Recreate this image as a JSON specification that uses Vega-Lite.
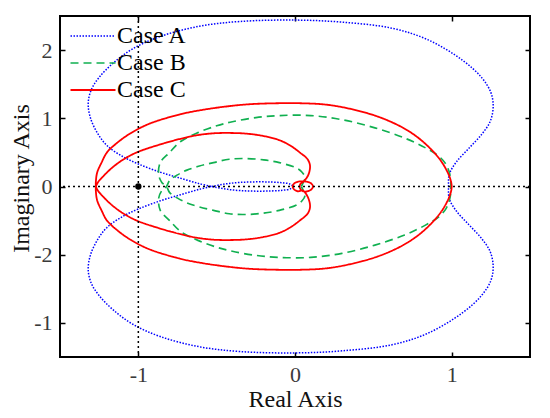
{
"$schema": "https://vega.github.io/schema/vega-lite/v6.json",
"width": 470, "height": 341,
"autosize": {"type": "none"},
"padding": {"left": 60, "top": 16, "right": 20, "bottom": 61},
"background": "#ffffff",
"config": {
  "view": {"stroke": "#000", "strokeWidth": 2},
  "font": "Liberation Serif",
  "axis": {"grid": false, "domain": false, "tickColor": "#000", "tickWidth": 1.5, "tickSize": -5,
    "labelFont": "Liberation Serif", "labelFontSize": 22, "labelColor": "#3a3a3a",
    "titleFont": "Liberation Serif", "titleFontSize": 24, "titleFontWeight": "normal", "titleColor": "#111"}
},
"datasets": {
  "curves": [
{"c":"Case A","i":1,"x":-0.01,"y":0},{"c":"Case A","i":2,"x":-0.03,"y":-0.035},{"c":"Case A","i":3,"x":-0.08,"y":-0.055},{"c":"Case A","i":4,"x":-0.15,"y":-0.065},{"c":"Case A","i":5,"x":-0.25,"y":-0.068},{"c":"Case A","i":6,"x":-0.35,"y":-0.06},{"c":"Case A","i":7,"x":-0.43,"y":-0.042},{"c":"Case A","i":8,"x":-0.5,"y":-0.015},{"c":"Case A","i":9,"x":-0.6,"y":0.035},{"c":"Case A","i":10,"x":-0.73,"y":0.12},{"c":"Case A","i":11,"x":-0.86,"y":0.21},{"c":"Case A","i":12,"x":-1.0,"y":0.33},{"c":"Case A","i":13,"x":-1.1,"y":0.44},{"c":"Case A","i":14,"x":-1.2,"y":0.6},{"c":"Case A","i":15,"x":-1.26,"y":0.78},{"c":"Case A","i":16,"x":-1.305,"y":1.0},{"c":"Case A","i":17,"x":-1.32,"y":1.22},{"c":"Case A","i":18,"x":-1.3,"y":1.42},{"c":"Case A","i":19,"x":-1.25,"y":1.6},{"c":"Case A","i":20,"x":-1.16,"y":1.81},{"c":"Case A","i":21,"x":-1.035,"y":2.02},{"c":"Case A","i":22,"x":-0.86,"y":2.2},{"c":"Case A","i":23,"x":-0.61,"y":2.35},{"c":"Case A","i":24,"x":-0.35,"y":2.42},{"c":"Case A","i":25,"x":0,"y":2.44},{"c":"Case A","i":26,"x":0.3,"y":2.41},{"c":"Case A","i":27,"x":0.62,"y":2.32},{"c":"Case A","i":28,"x":0.85,"y":2.15},{"c":"Case A","i":29,"x":1.07,"y":1.85},{"c":"Case A","i":30,"x":1.19,"y":1.6},{"c":"Case A","i":31,"x":1.25,"y":1.38},{"c":"Case A","i":32,"x":1.265,"y":1.17},{"c":"Case A","i":33,"x":1.245,"y":0.95},{"c":"Case A","i":34,"x":1.19,"y":0.76},{"c":"Case A","i":35,"x":1.11,"y":0.56},{"c":"Case A","i":36,"x":1.03,"y":0.36},{"c":"Case A","i":37,"x":0.985,"y":0.18},{"c":"Case A","i":38,"x":0.98,"y":0},
{"c":"Case A","i":39,"x":0.985,"y":-0.18},{"c":"Case A","i":40,"x":1.03,"y":-0.36},{"c":"Case A","i":41,"x":1.11,"y":-0.56},{"c":"Case A","i":42,"x":1.19,"y":-0.76},{"c":"Case A","i":43,"x":1.245,"y":-0.95},{"c":"Case A","i":44,"x":1.265,"y":-1.17},{"c":"Case A","i":45,"x":1.25,"y":-1.38},{"c":"Case A","i":46,"x":1.19,"y":-1.6},{"c":"Case A","i":47,"x":1.07,"y":-1.85},{"c":"Case A","i":48,"x":0.85,"y":-2.15},{"c":"Case A","i":49,"x":0.62,"y":-2.32},{"c":"Case A","i":50,"x":0.3,"y":-2.41},{"c":"Case A","i":51,"x":0,"y":-2.44},{"c":"Case A","i":52,"x":-0.35,"y":-2.42},{"c":"Case A","i":53,"x":-0.61,"y":-2.35},{"c":"Case A","i":54,"x":-0.86,"y":-2.2},{"c":"Case A","i":55,"x":-1.035,"y":-2.02},{"c":"Case A","i":56,"x":-1.16,"y":-1.81},{"c":"Case A","i":57,"x":-1.25,"y":-1.6},{"c":"Case A","i":58,"x":-1.3,"y":-1.42},{"c":"Case A","i":59,"x":-1.32,"y":-1.22},{"c":"Case A","i":60,"x":-1.305,"y":-1.0},{"c":"Case A","i":61,"x":-1.26,"y":-0.78},{"c":"Case A","i":62,"x":-1.2,"y":-0.6},{"c":"Case A","i":63,"x":-1.1,"y":-0.44},{"c":"Case A","i":64,"x":-1.0,"y":-0.33},{"c":"Case A","i":65,"x":-0.86,"y":-0.21},{"c":"Case A","i":66,"x":-0.73,"y":-0.12},{"c":"Case A","i":67,"x":-0.6,"y":-0.035},{"c":"Case A","i":68,"x":-0.5,"y":0.015},{"c":"Case A","i":69,"x":-0.43,"y":0.042},{"c":"Case A","i":70,"x":-0.35,"y":0.06},{"c":"Case A","i":71,"x":-0.25,"y":0.068},{"c":"Case A","i":72,"x":-0.15,"y":0.065},{"c":"Case A","i":73,"x":-0.08,"y":0.055},{"c":"Case A","i":74,"x":-0.03,"y":0.035},{"c":"Case A","i":75,"x":-0.01,"y":0},
{"c":"Case B","i":1,"x":0.04,"y":0},{"c":"Case B","i":2,"x":0.05,"y":0.045},{"c":"Case B","i":3,"x":0.064,"y":0.13},{"c":"Case B","i":4,"x":0.045,"y":0.21},{"c":"Case B","i":5,"x":0.01,"y":0.27},{"c":"Case B","i":6,"x":-0.1,"y":0.35},{"c":"Case B","i":7,"x":-0.2,"y":0.39},{"c":"Case B","i":8,"x":-0.31,"y":0.41},{"c":"Case B","i":9,"x":-0.42,"y":0.4},{"c":"Case B","i":10,"x":-0.52,"y":0.35},{"c":"Case B","i":11,"x":-0.61,"y":0.3},{"c":"Case B","i":12,"x":-0.69,"y":0.24},{"c":"Case B","i":13,"x":-0.75,"y":0.17},{"c":"Case B","i":14,"x":-0.8,"y":0.09},{"c":"Case B","i":15,"x":-0.82,"y":0},{"c":"Case B","i":16,"x":-0.85,"y":-0.06},{"c":"Case B","i":17,"x":-0.87,"y":-0.17},{"c":"Case B","i":18,"x":-0.86,"y":-0.35},{"c":"Case B","i":19,"x":-0.8,"y":-0.5},{"c":"Case B","i":20,"x":-0.73,"y":-0.66},{"c":"Case B","i":21,"x":-0.62,"y":-0.79},{"c":"Case B","i":22,"x":-0.5,"y":-0.89},{"c":"Case B","i":23,"x":-0.4,"y":-0.95},{"c":"Case B","i":24,"x":-0.25,"y":-1.01},{"c":"Case B","i":25,"x":-0.1,"y":-1.04},{"c":"Case B","i":26,"x":0.1,"y":-1.04},{"c":"Case B","i":27,"x":0.3,"y":-0.98},{"c":"Case B","i":28,"x":0.51,"y":-0.86},{"c":"Case B","i":29,"x":0.7,"y":-0.71},{"c":"Case B","i":30,"x":0.83,"y":-0.57},{"c":"Case B","i":31,"x":0.92,"y":-0.44},{"c":"Case B","i":32,"x":0.965,"y":-0.32},{"c":"Case B","i":33,"x":0.99,"y":-0.16},{"c":"Case B","i":34,"x":0.995,"y":0},
{"c":"Case B","i":35,"x":0.99,"y":0.16},{"c":"Case B","i":36,"x":0.965,"y":0.32},{"c":"Case B","i":37,"x":0.92,"y":0.44},{"c":"Case B","i":38,"x":0.83,"y":0.57},{"c":"Case B","i":39,"x":0.7,"y":0.71},{"c":"Case B","i":40,"x":0.51,"y":0.86},{"c":"Case B","i":41,"x":0.3,"y":0.98},{"c":"Case B","i":42,"x":0.1,"y":1.04},{"c":"Case B","i":43,"x":-0.1,"y":1.04},{"c":"Case B","i":44,"x":-0.25,"y":1.01},{"c":"Case B","i":45,"x":-0.4,"y":0.95},{"c":"Case B","i":46,"x":-0.5,"y":0.89},{"c":"Case B","i":47,"x":-0.62,"y":0.79},{"c":"Case B","i":48,"x":-0.73,"y":0.66},{"c":"Case B","i":49,"x":-0.8,"y":0.5},{"c":"Case B","i":50,"x":-0.86,"y":0.35},{"c":"Case B","i":51,"x":-0.87,"y":0.17},{"c":"Case B","i":52,"x":-0.85,"y":0.06},{"c":"Case B","i":53,"x":-0.82,"y":0},{"c":"Case B","i":54,"x":-0.8,"y":-0.09},{"c":"Case B","i":55,"x":-0.75,"y":-0.17},{"c":"Case B","i":56,"x":-0.69,"y":-0.24},{"c":"Case B","i":57,"x":-0.61,"y":-0.3},{"c":"Case B","i":58,"x":-0.52,"y":-0.35},{"c":"Case B","i":59,"x":-0.42,"y":-0.4},{"c":"Case B","i":60,"x":-0.31,"y":-0.41},{"c":"Case B","i":61,"x":-0.2,"y":-0.39},{"c":"Case B","i":62,"x":-0.1,"y":-0.35},{"c":"Case B","i":63,"x":0.01,"y":-0.27},{"c":"Case B","i":64,"x":0.045,"y":-0.21},{"c":"Case B","i":65,"x":0.064,"y":-0.13},{"c":"Case B","i":66,"x":0.05,"y":-0.045},{"c":"Case B","i":67,"x":0.04,"y":0},
{"c":"Case C","i":1,"x":0.05,"y":0.06},{"c":"Case C","i":2,"x":0.083,"y":0.16},{"c":"Case C","i":3,"x":0.096,"y":0.3},{"c":"Case C","i":4,"x":0.08,"y":0.4},{"c":"Case C","i":5,"x":0.03,"y":0.5},{"c":"Case C","i":6,"x":-0.03,"y":0.6},{"c":"Case C","i":7,"x":-0.1,"y":0.68},{"c":"Case C","i":8,"x":-0.2,"y":0.74},{"c":"Case C","i":9,"x":-0.31,"y":0.775},{"c":"Case C","i":10,"x":-0.42,"y":0.785},{"c":"Case C","i":11,"x":-0.52,"y":0.78},{"c":"Case C","i":12,"x":-0.63,"y":0.75},{"c":"Case C","i":13,"x":-0.73,"y":0.7},{"c":"Case C","i":14,"x":-0.87,"y":0.61},{"c":"Case C","i":15,"x":-1.01,"y":0.5},{"c":"Case C","i":16,"x":-1.1,"y":0.39},{"c":"Case C","i":17,"x":-1.17,"y":0.27},{"c":"Case C","i":18,"x":-1.22,"y":0.16},{"c":"Case C","i":19,"x":-1.255,"y":0.07},{"c":"Case C","i":20,"x":-1.27,"y":0},{"c":"Case C","i":21,"x":-1.27,"y":-0.1},{"c":"Case C","i":22,"x":-1.262,"y":-0.21},{"c":"Case C","i":23,"x":-1.235,"y":-0.35},{"c":"Case C","i":24,"x":-1.2,"y":-0.5},{"c":"Case C","i":25,"x":-1.13,"y":-0.65},{"c":"Case C","i":26,"x":-1.05,"y":-0.78},{"c":"Case C","i":27,"x":-0.93,"y":-0.92},{"c":"Case C","i":28,"x":-0.73,"y":-1.06},{"c":"Case C","i":29,"x":-0.6,"y":-1.12},{"c":"Case C","i":30,"x":-0.45,"y":-1.17},{"c":"Case C","i":31,"x":-0.3,"y":-1.205},{"c":"Case C","i":32,"x":-0.13,"y":-1.22},{"c":"Case C","i":33,"x":0.05,"y":-1.22},{"c":"Case C","i":34,"x":0.2,"y":-1.2},{"c":"Case C","i":35,"x":0.35,"y":-1.14},{"c":"Case C","i":36,"x":0.51,"y":-1.04},{"c":"Case C","i":37,"x":0.63,"y":-0.93},{"c":"Case C","i":38,"x":0.72,"y":-0.82},{"c":"Case C","i":39,"x":0.8,"y":-0.69},{"c":"Case C","i":40,"x":0.875,"y":-0.53},{"c":"Case C","i":41,"x":0.93,"y":-0.38},{"c":"Case C","i":42,"x":0.965,"y":-0.25},{"c":"Case C","i":43,"x":0.99,"y":-0.12},{"c":"Case C","i":44,"x":1.0,"y":0},
{"c":"Case C","i":45,"x":0.99,"y":0.12},{"c":"Case C","i":46,"x":0.965,"y":0.25},{"c":"Case C","i":47,"x":0.93,"y":0.38},{"c":"Case C","i":48,"x":0.875,"y":0.53},{"c":"Case C","i":49,"x":0.8,"y":0.69},{"c":"Case C","i":50,"x":0.72,"y":0.82},{"c":"Case C","i":51,"x":0.63,"y":0.93},{"c":"Case C","i":52,"x":0.51,"y":1.04},{"c":"Case C","i":53,"x":0.35,"y":1.14},{"c":"Case C","i":54,"x":0.2,"y":1.2},{"c":"Case C","i":55,"x":0.05,"y":1.22},{"c":"Case C","i":56,"x":-0.13,"y":1.22},{"c":"Case C","i":57,"x":-0.3,"y":1.205},{"c":"Case C","i":58,"x":-0.45,"y":1.17},{"c":"Case C","i":59,"x":-0.6,"y":1.12},{"c":"Case C","i":60,"x":-0.73,"y":1.06},{"c":"Case C","i":61,"x":-0.93,"y":0.92},{"c":"Case C","i":62,"x":-1.05,"y":0.78},{"c":"Case C","i":63,"x":-1.13,"y":0.65},{"c":"Case C","i":64,"x":-1.2,"y":0.5},{"c":"Case C","i":65,"x":-1.235,"y":0.35},{"c":"Case C","i":66,"x":-1.262,"y":0.21},{"c":"Case C","i":67,"x":-1.27,"y":0.1},{"c":"Case C","i":68,"x":-1.27,"y":0},{"c":"Case C","i":69,"x":-1.255,"y":-0.07},{"c":"Case C","i":70,"x":-1.22,"y":-0.16},{"c":"Case C","i":71,"x":-1.17,"y":-0.27},{"c":"Case C","i":72,"x":-1.1,"y":-0.39},{"c":"Case C","i":73,"x":-1.01,"y":-0.5},{"c":"Case C","i":74,"x":-0.87,"y":-0.61},{"c":"Case C","i":75,"x":-0.73,"y":-0.7},{"c":"Case C","i":76,"x":-0.63,"y":-0.75},{"c":"Case C","i":77,"x":-0.52,"y":-0.78},{"c":"Case C","i":78,"x":-0.42,"y":-0.785},{"c":"Case C","i":79,"x":-0.31,"y":-0.775},{"c":"Case C","i":80,"x":-0.2,"y":-0.74},{"c":"Case C","i":81,"x":-0.1,"y":-0.68},{"c":"Case C","i":82,"x":-0.03,"y":-0.6},{"c":"Case C","i":83,"x":0.03,"y":-0.5},{"c":"Case C","i":84,"x":0.08,"y":-0.4},{"c":"Case C","i":85,"x":0.096,"y":-0.3},{"c":"Case C","i":86,"x":0.083,"y":-0.16},{"c":"Case C","i":87,"x":0.05,"y":-0.06},
{"c":"Case C","i":88,"x":0.02,"y":-0.07},{"c":"Case C","i":89,"x":-0.005,"y":-0.045},{"c":"Case C","i":90,"x":-0.015,"y":0},{"c":"Case C","i":91,"x":-0.005,"y":0.045},{"c":"Case C","i":92,"x":0.02,"y":0.07},{"c":"Case C","i":93,"x":0.06,"y":0.075},{"c":"Case C","i":94,"x":0.1,"y":0.05},{"c":"Case C","i":95,"x":0.115,"y":0},{"c":"Case C","i":96,"x":0.1,"y":-0.05},{"c":"Case C","i":97,"x":0.06,"y":-0.075},{"c":"Case C","i":98,"x":0.035,"y":-0.04},{"c":"Case C","i":99,"x":0.03,"y":0},{"c":"Case C","i":100,"x":0.035,"y":0.04},{"c":"Case C","i":101,"x":0.05,"y":0.06}
  ],
  "hline": [{"v": 0}],
  "vline": [{"v": -1}],
  "pt": [{"x": -1, "y": 0}]
},
"layer": [
  {
    "data": {"name": "curves"},
    "mark": {"type": "line", "interpolate": "catmull-rom", "clip": true},
    "encoding": {
      "x": {"field": "x", "type": "quantitative", "scale": {"domain": [-1.5, 1.5], "nice": false, "zero": false},
        "axis": {"orient": "bottom", "values": [-1, 0, 1], "labelExpr": "datum.value == -1 ? '-1' : datum.value == 0 ? '0' : '1'", "title": "Real Axis", "labelPadding": 12, "titlePadding": 2}},
      "y": {"field": "y", "type": "quantitative", "scale": {"domain": [-2.5, 2.5], "nice": false, "zero": false},
        "axis": {"orient": "left", "values": [-2, -1, 0, 1, 2], "labelExpr": "datum.value == 2 ? '2' : datum.value == 1 ? '1' : datum.value == 0 ? '0' : datum.value == -1 ? '-2' : '-1'", "title": "Imaginary Axis", "labelPadding": 13, "titlePadding": 0, "titleY": 162}},
      "color": {"field": "c", "type": "nominal", "scale": {"domain": ["Case A", "Case B", "Case C"], "range": ["#0000ff", "#10b050", "#ff0000"]},
        "legend": {"title": null, "orient": "none", "legendX": 21, "legendY": 8, "padding": 0, "symbolType": "M-2.5,0H2.5", "symbolSize": 324, "labelOffset": 12, "rowPadding": 3, "labelFont": "Liberation Serif", "labelFontSize": 24, "labelColor": "#000"}},
      "strokeDash": {"field": "c", "type": "nominal", "scale": {"domain": ["Case A", "Case B", "Case C"], "range": [[1.5, 1.5], [8, 5], [1, 0]]}, "legend": {"title": null}},
      "strokeWidth": {"field": "c", "type": "nominal", "scale": {"domain": ["Case A", "Case B", "Case C"], "range": [1.5, 1.8, 2.2]}, "legend": {"title": null}},
      "order": {"field": "i", "type": "quantitative"}
    }
  },
  {
    "data": {"name": "hline"},
    "mark": {"type": "rule", "color": "#000", "strokeWidth": 1.5, "strokeDash": [2, 3]},
    "encoding": {"y": {"field": "v", "type": "quantitative", "scale": {"domain": [-2.5, 2.5], "nice": false, "zero": false}, "axis": null}}
  },
  {
    "data": {"name": "vline"},
    "mark": {"type": "rule", "color": "#000", "strokeWidth": 1.5, "strokeDash": [2, 3]},
    "encoding": {"x": {"field": "v", "type": "quantitative", "scale": {"domain": [-1.5, 1.5], "nice": false, "zero": false}, "axis": null}}
  },
  {
    "data": {"name": "pt"},
    "mark": {"type": "point", "filled": true, "color": "#000", "size": 40, "opacity": 1},
    "encoding": {
      "x": {"field": "x", "type": "quantitative", "scale": {"domain": [-1.5, 1.5], "nice": false, "zero": false},
        "axis": {"orient": "top", "values": [-1, 0, 1], "labels": false, "title": null}},
      "y": {"field": "y", "type": "quantitative", "scale": {"domain": [-2.5, 2.5], "nice": false, "zero": false},
        "axis": {"orient": "right", "values": [-2, -1, 0, 1, 2], "labels": false, "title": null}}
    }
  }
],
"resolve": {"axis": {"x": "independent", "y": "independent"}}
}
